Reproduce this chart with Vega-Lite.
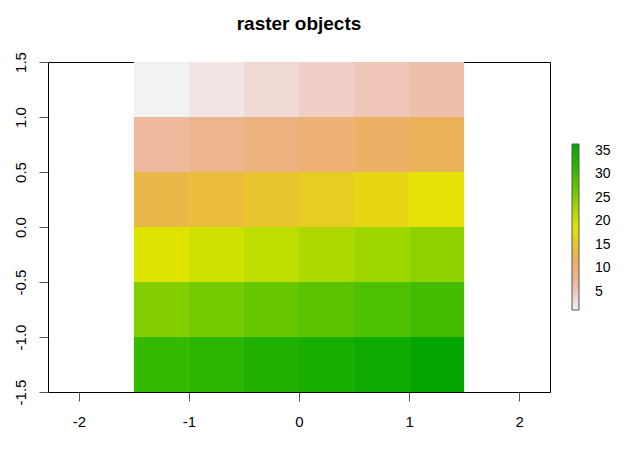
{
  "$schema": "https://vega.github.io/schema/vega-lite/v6.json",
  "width": 502,
  "height": 330,
  "autosize": "none",
  "padding": {"left": 48, "top": 62, "right": 79, "bottom": 57},
  "background": "white",
  "title": {
    "text": "raster objects",
    "font": "Liberation Sans",
    "fontSize": 19,
    "fontWeight": "bold",
    "color": "black",
    "anchor": "middle",
    "baseline": "alphabetic",
    "offset": 3
  },
  "config": {
    "view": {"stroke": "black", "strokeWidth": 1},
    "axis": {
      "labelFont": "Liberation Sans",
      "labelFontSize": 15,
      "labelColor": "black",
      "tickColor": "#555",
      "tickSize": 9,
      "domain": false,
      "grid": false,
      "title": null
    }
  },
  "data": {
    "values": [
      {"x0": -1.5, "x1": -1.0, "y0": 1.0, "y1": 1.5, "value": 1},
      {"x0": -1.0, "x1": -0.5, "y0": 1.0, "y1": 1.5, "value": 2},
      {"x0": -0.5, "x1": 0.0, "y0": 1.0, "y1": 1.5, "value": 3},
      {"x0": 0.0, "x1": 0.5, "y0": 1.0, "y1": 1.5, "value": 4},
      {"x0": 0.5, "x1": 1.0, "y0": 1.0, "y1": 1.5, "value": 5},
      {"x0": 1.0, "x1": 1.5, "y0": 1.0, "y1": 1.5, "value": 6},
      {"x0": -1.5, "x1": -1.0, "y0": 0.5, "y1": 1.0, "value": 7},
      {"x0": -1.0, "x1": -0.5, "y0": 0.5, "y1": 1.0, "value": 8},
      {"x0": -0.5, "x1": 0.0, "y0": 0.5, "y1": 1.0, "value": 9},
      {"x0": 0.0, "x1": 0.5, "y0": 0.5, "y1": 1.0, "value": 10},
      {"x0": 0.5, "x1": 1.0, "y0": 0.5, "y1": 1.0, "value": 11},
      {"x0": 1.0, "x1": 1.5, "y0": 0.5, "y1": 1.0, "value": 12},
      {"x0": -1.5, "x1": -1.0, "y0": 0.0, "y1": 0.5, "value": 13},
      {"x0": -1.0, "x1": -0.5, "y0": 0.0, "y1": 0.5, "value": 14},
      {"x0": -0.5, "x1": 0.0, "y0": 0.0, "y1": 0.5, "value": 15},
      {"x0": 0.0, "x1": 0.5, "y0": 0.0, "y1": 0.5, "value": 16},
      {"x0": 0.5, "x1": 1.0, "y0": 0.0, "y1": 0.5, "value": 17},
      {"x0": 1.0, "x1": 1.5, "y0": 0.0, "y1": 0.5, "value": 18},
      {"x0": -1.5, "x1": -1.0, "y0": -0.5, "y1": 0.0, "value": 19},
      {"x0": -1.0, "x1": -0.5, "y0": -0.5, "y1": 0.0, "value": 20},
      {"x0": -0.5, "x1": 0.0, "y0": -0.5, "y1": 0.0, "value": 21},
      {"x0": 0.0, "x1": 0.5, "y0": -0.5, "y1": 0.0, "value": 22},
      {"x0": 0.5, "x1": 1.0, "y0": -0.5, "y1": 0.0, "value": 23},
      {"x0": 1.0, "x1": 1.5, "y0": -0.5, "y1": 0.0, "value": 24},
      {"x0": -1.5, "x1": -1.0, "y0": -1.0, "y1": -0.5, "value": 25},
      {"x0": -1.0, "x1": -0.5, "y0": -1.0, "y1": -0.5, "value": 26},
      {"x0": -0.5, "x1": 0.0, "y0": -1.0, "y1": -0.5, "value": 27},
      {"x0": 0.0, "x1": 0.5, "y0": -1.0, "y1": -0.5, "value": 28},
      {"x0": 0.5, "x1": 1.0, "y0": -1.0, "y1": -0.5, "value": 29},
      {"x0": 1.0, "x1": 1.5, "y0": -1.0, "y1": -0.5, "value": 30},
      {"x0": -1.5, "x1": -1.0, "y0": -1.5, "y1": -1.0, "value": 31},
      {"x0": -1.0, "x1": -0.5, "y0": -1.5, "y1": -1.0, "value": 32},
      {"x0": -0.5, "x1": 0.0, "y0": -1.5, "y1": -1.0, "value": 33},
      {"x0": 0.0, "x1": 0.5, "y0": -1.5, "y1": -1.0, "value": 34},
      {"x0": 0.5, "x1": 1.0, "y0": -1.5, "y1": -1.0, "value": 35},
      {"x0": 1.0, "x1": 1.5, "y0": -1.5, "y1": -1.0, "value": 36}
    ]
  },
  "mark": {"type": "rect", "strokeWidth": 0},
  "encoding": {
    "x": {
      "field": "x0",
      "type": "quantitative",
      "scale": {"domain": [-2.28, 2.28], "nice": false, "zero": false},
      "axis": {"values": [-2, -1, 0, 1, 2], "labelExpr": "toString(datum.value)", "labelPadding": 13}
    },
    "x2": {"field": "x1"},
    "y": {
      "field": "y0",
      "type": "quantitative",
      "scale": {"domain": [-1.5, 1.5], "nice": false, "zero": false},
      "axis": {
        "values": [-1.5, -1, -0.5, 0, 0.5, 1, 1.5],
        "labelExpr": "replace(format(datum.value, '.1f'), '−', '-')",
        "labelAngle": 270,
        "labelAlign": "center",
        "labelBaseline": "alphabetic",
        "labelPadding": 14
      }
    },
    "y2": {"field": "y1"},
    "color": {
      "field": "value",
      "type": "quantitative",
      "scale": {
        "type": "linear",
        "clamp": true,
        "interpolate": "rgb",
        "domain": [1.1, 3.1875, 5.375, 7.5625, 9.75, 11.9375, 14.125, 16.3125, 18.5, 22.875, 27.25, 31.625, 36.4],
        "range": ["#F2F2F2", "#F1D6D3", "#EFC2B3", "#EDB694", "#ECB176", "#EAB358", "#E9BD3A", "#E7CE1D", "#E6E600", "#A0D600", "#63C600", "#2DB600", "#00A600"]
      },
      "legend": {
        "orient": "none",
        "legendX": 524,
        "legendY": 82,
        "direction": "vertical",
        "title": null,
        "padding": 0,
        "gradientLength": 166,
        "gradientThickness": 7,
        "gradientStrokeColor": "#555",
        "gradientStrokeWidth": 1,
        "values": [5, 10, 15, 20, 25, 30, 35],
        "labelFont": "Liberation Sans",
        "labelFontSize": 14,
        "labelColor": "black",
        "labelOffset": 16,
        "labelOverlap": false
      }
    }
  }
}
